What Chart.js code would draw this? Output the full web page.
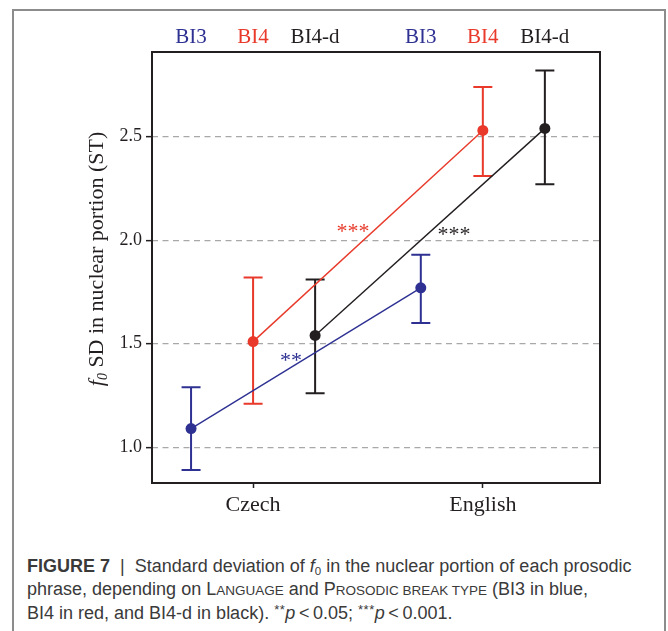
<!DOCTYPE html>
<html><head><meta charset="utf-8">
<script src="https://cdn.jsdelivr.net/npm/chart.js@4"></script>
<style>
html,body{margin:0;padding:0;background:#fff;width:668px;height:631px;overflow:hidden;}
#frame{position:absolute;left:12px;top:9px;width:654px;height:700px;box-sizing:border-box;border:2px solid #8c8c8c;border-bottom:none;}
#wrap{position:absolute;left:0;top:0;width:668px;height:540px;}
#caption{position:absolute;left:27px;top:555px;font-family:'Liberation Sans',Arial,sans-serif;font-size:18px;line-height:23px;color:#3a3a3a;white-space:nowrap;}
#caption .sc{font-size:13.5px;}
#caption sub{font-size:11.5px;vertical-align:-3px;line-height:0;}
#caption sup{font-size:13px;vertical-align:5px;line-height:0;letter-spacing:0.5px;}
</style></head><body>
<div id="frame"></div>
<div id="wrap"><canvas id="c"></canvas></div>
<div id="caption"><b>FIGURE 7</b> &nbsp;|&nbsp; Standard deviation of <i>f</i><sub>0</sub> in the nuclear portion of each prosodic<br>phrase, depending on L<span class="sc">ANGUAGE</span> and P<span class="sc">ROSODIC BREAK TYPE</span> (BI3 in blue,<br>BI4 in red, and BI4-d in black). <sup>**</sup><i>p</i>&thinsp;&lt;&thinsp;0.05; <sup>***</sup><i>p</i>&thinsp;&lt;&thinsp;0.001.</div>
<script>
// ---- data ----
const categories = ['Czech', 'English'];
const breakTypes = ['BI3', 'BI4', 'BI4-d'];
const bi3Mean  = [1.09, 1.77];
const bi3Upper = [1.29, 1.93];
const bi3Lower = [0.89, 1.60];
const bi4Mean  = [1.51, 2.53];
const bi4Upper = [1.82, 2.74];
const bi4Lower = [1.21, 2.31];
const bi4dMean  = [1.54, 2.54];
const bi4dUpper = [1.81, 2.82];
const bi4dLower = [1.26, 2.27];
const yTickValues = [1.0, 1.5, 2.0, 2.5];
const sigLabels = ['**', '***', '***'];

// ---- styling / layout ----
const colors = ['#2e3192', '#e8392a', '#231f20'];
const dodge = [-0.27, 0, 0.27];
const means = [bi3Mean, bi4Mean, bi4dMean];
const uppers = [bi3Upper, bi4Upper, bi4dUpper];
const lowers = [bi3Lower, bi4Lower, bi4dLower];
const sigOffsets = [[-15, -1.5], [-15, -8], [24, -0.5]];
const serif = "'Liberation Serif', 'Times New Roman', serif";
const X_MIN = -0.44, X_MAX = 1.51, Y_MIN = 0.827, Y_MAX = 2.909;

const datasets = breakTypes.map((name, s) => ({
  label: name,
  data: categories.map((c, i) => ({ x: i + dodge[s], y: means[s][i] })),
  borderColor: colors[s],
  backgroundColor: colors[s],
  pointBackgroundColor: colors[s],
  borderWidth: 1.4,
  pointRadius: 5.5,
  pointHoverRadius: 5.5,
  pointBorderWidth: 0,
  showLine: true,
  tension: 0,
  errUpper: uppers[s],
  errLower: lowers[s]
}));

const framePlugin = {
  id: 'frame',
  beforeDatasetsDraw(chart) {
    const { ctx, chartArea: a } = chart;
    ctx.save();
    ctx.strokeStyle = '#231f20';
    ctx.lineWidth = 2;
    ctx.strokeRect(a.left, a.top, a.right - a.left, a.bottom - a.top);
    ctx.restore();
  }
};

const errorBars = {
  id: 'errorBars',
  beforeDatasetsDraw(chart) {
    const { ctx, scales: { x, y } } = chart;
    chart.data.datasets.forEach(ds => {
      ctx.save();
      ctx.strokeStyle = ds.borderColor;
      ctx.lineWidth = 2;
      ds.data.forEach((p, i) => {
        const px = x.getPixelForValue(p.x);
        const yu = y.getPixelForValue(ds.errUpper[i]);
        const yl = y.getPixelForValue(ds.errLower[i]);
        ctx.beginPath();
        ctx.moveTo(px, yu); ctx.lineTo(px, yl);
        ctx.moveTo(px - 9.5, yu); ctx.lineTo(px + 9.5, yu);
        ctx.moveTo(px - 9.5, yl); ctx.lineTo(px + 9.5, yl);
        ctx.stroke();
      });
      ctx.restore();
    });
  }
};

const sigPlugin = {
  id: 'sig',
  afterDatasetsDraw(chart) {
    const { ctx, scales: { x, y } } = chart;
    ctx.save();
    ctx.font = '22px ' + serif;
    ctx.textAlign = 'center';
    ctx.textBaseline = 'alphabetic';
    chart.data.datasets.forEach((ds, s) => {
      const p0 = ds.data[0], p1 = ds.data[1];
      const mx = (x.getPixelForValue(p0.x) + x.getPixelForValue(p1.x)) / 2;
      const my = (y.getPixelForValue(p0.y) + y.getPixelForValue(p1.y)) / 2;
      ctx.fillStyle = colors[s];
      ctx.fillText(sigLabels[s], mx + sigOffsets[s][0], my + sigOffsets[s][1] + 10);
    });
    ctx.restore();
  }
};

const yTitlePlugin = {
  id: 'yTitle',
  afterDraw(chart) {
    const { ctx } = chart;
    const parts = [
      { t: 'f', f: 'italic 22px ' + serif, dy: 0 },
      { t: '0', f: 'italic 14px ' + serif, dy: 4 },
      { t: ' SD in nuclear portion (ST)', f: '22px ' + serif, dy: 0 }
    ];
    ctx.save();
    let total = 0;
    parts.forEach(p => { ctx.font = p.f; p.w = ctx.measureText(p.t).width; total += p.w; });
    ctx.translate(103, 259);
    ctx.rotate(-Math.PI / 2);
    ctx.fillStyle = '#231f20';
    ctx.textBaseline = 'alphabetic';
    ctx.textAlign = 'left';
    let cx = -total / 2;
    parts.forEach(p => { ctx.font = p.f; ctx.fillText(p.t, cx, p.dy); cx += p.w; });
    ctx.restore();
  }
};

new Chart(document.getElementById('c'), {
  type: 'line',
  data: { datasets },
  options: {
    responsive: true,
    maintainAspectRatio: false,
    animation: false,
    devicePixelRatio: 1,
    layout: { padding: { left: 0, right: 68, top: 0, bottom: 0 } },
    plugins: { legend: { display: false }, tooltip: { enabled: false } },
    events: [],
    scales: {
      x: {
        type: 'linear', position: 'bottom', min: X_MIN, max: X_MAX,
        afterBuildTicks: s => { s.ticks = categories.map((c, i) => ({ value: i })); },
        afterFit: s => { s.height = 57; },
        ticks: {
          autoSkip: false, maxRotation: 0, minRotation: 0, padding: 4,
          color: '#231f20', font: { family: serif, size: 22 },
          callback: v => categories[Math.round(v)]
        },
        grid: { display: true, drawOnChartArea: false, drawTicks: true, tickLength: 5,
                color: '#231f20', tickColor: '#231f20', tickWidth: 1.5 },
        border: { display: false }
      },
      x2: {
        type: 'linear', position: 'top', min: X_MIN, max: X_MAX,
        afterBuildTicks: s => {
          s.ticks = categories.flatMap((c, i) => dodge.map(d => ({ value: i + d })));
        },
        afterFit: s => { s.height = 52; },
        ticks: {
          autoSkip: false, maxRotation: 0, minRotation: 0, padding: 2,
          font: { family: serif, size: 21 },
          color: c => colors[c.index % 3],
          callback: (v, i) => breakTypes[i % 3]
        },
        grid: { display: false, drawTicks: false },
        border: { display: false }
      },
      y: {
        type: 'linear', position: 'left', min: Y_MIN, max: Y_MAX,
        afterBuildTicks: s => { s.ticks = yTickValues.map(v => ({ value: v })); },
        afterFit: s => { s.width = 152; },
        ticks: {
          padding: 4, color: '#231f20', font: { family: serif, size: 18 },
          callback: v => v.toFixed(1)
        },
        grid: { display: true, color: '#a8a8a8', lineWidth: 1.3, drawTicks: true,
                tickLength: 6, tickColor: '#231f20', tickWidth: 1.5, tickBorderDash: [] },
        border: { display: false, dash: [6, 4.5] }
      }
    }
  },
  plugins: [framePlugin, errorBars, sigPlugin, yTitlePlugin]
});
</script>
</body></html>
